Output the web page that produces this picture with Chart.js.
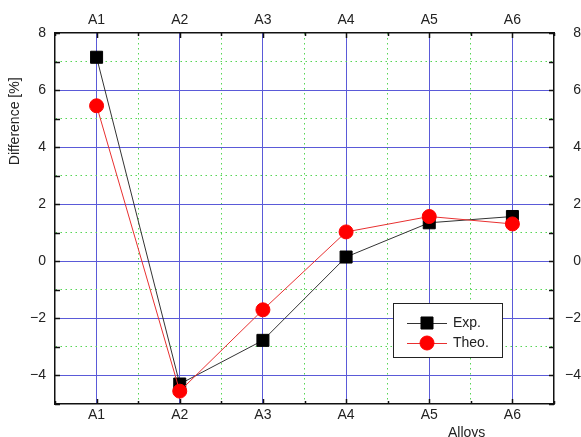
<!DOCTYPE html>
<html>
<head>
<meta charset="utf-8">
<script src="https://cdn.jsdelivr.net/npm/chart.js@4/dist/chart.umd.min.js"></script>
<style>
  body { margin: 0; background: #fff; }
  #wrap { width: 581px; height: 437px; position: relative; }
</style>
</head>
<body>
<div id="wrap"><canvas id="myChart"></canvas></div>
<script>
// values
var categories = ["A1", "A2", "A3", "A4", "A5", "A6"];
var expValues = [7.15, -4.3, -2.77, 0.15, 1.35, 1.57];
var theoValues = [5.45, -4.55, -1.7, 1.03, 1.57, 1.31];
var yTicks = [-4, -2, 0, 2, 4, 6, 8];

var BLUE = "#5a5ad8";
var GREEN = "#55d655";

function toPoints(vals) {
  return vals.map(function (v, i) { return { x: i, y: v }; });
}

function xGridColor(ctx) {
  if (!ctx.tick) return "transparent";
  var v = ctx.tick.value;
  if (v <= -0.5 || v >= categories.length - 0.5) return "transparent";
  return Number.isInteger(v) ? BLUE : GREEN;
}
function yGridColor(ctx) {
  if (!ctx.tick) return "transparent";
  var v = ctx.tick.value;
  if (v <= -5 || v >= 8) return "transparent";
  return v % 2 === 0 ? BLUE : GREEN;
}
function xDash(ctx) {
  if (!ctx.tick) return [];
  return Number.isInteger(ctx.tick.value) ? [] : [1.5, 3.5];
}
function yDash(ctx) {
  if (!ctx.tick) return [];
  return ctx.tick.value % 2 === 0 ? [] : [1.5, 3.5];
}
function catLabel(v) {
  return Number.isInteger(v) ? categories[v] : "";
}
function numLabel(v) {
  if (yTicks.indexOf(v) < 0) return "";
  return v < 0 ? "\u2212" + Math.abs(v) : String(v);
}

// inward tick marks, axis titles and the boxed legend
var extras = {
  id: "extras",
  afterDraw: function (chart) {
    var ctx = chart.ctx;
    var a = chart.chartArea;
    var xs = chart.scales.x, ys = chart.scales.y;
    ctx.save();
    ctx.strokeStyle = "#111";
    ctx.lineWidth = 1.5;
    ctx.beginPath();
    xs.ticks.forEach(function (t) {
      var px = Math.round(xs.getPixelForValue(t.value)) + 0.5;
      var len = Number.isInteger(t.value) ? 5 : 3;
      ctx.moveTo(px, a.bottom); ctx.lineTo(px, a.bottom - len);
      ctx.moveTo(px, a.top); ctx.lineTo(px, a.top + len);
    });
    ys.ticks.forEach(function (t) {
      var py = Math.round(ys.getPixelForValue(t.value)) + 0.5;
      ctx.moveTo(a.left, py); ctx.lineTo(a.left + 5, py);
      ctx.moveTo(a.right, py); ctx.lineTo(a.right - 5, py);
    });
    ctx.stroke();

    ctx.fillStyle = "#222";
    ctx.font = "14px 'Liberation Sans', Arial, sans-serif";
    ctx.textAlign = "center";
    ctx.textBaseline = "middle";
    ctx.fillText("Alloys", a.left + (a.right - a.left) * 0.825, a.bottom + 29);
    ctx.save();
    ctx.translate(15, a.top + (a.bottom - a.top) * 0.238);
    ctx.rotate(-Math.PI / 2);
    ctx.fillText("Difference [%]", 0, 0);
    ctx.restore();

    // legend
    var bx = a.right - 161, by = a.bottom - 101, bw = 109, bh = 54;
    ctx.fillStyle = "#fff";
    ctx.fillRect(bx, by, bw, bh);
    ctx.strokeStyle = "#222";
    ctx.lineWidth = 1;
    ctx.strokeRect(bx + 0.5, by + 0.5, bw, bh);
    chart.data.datasets.slice().sort(function (p, q) { return q.order - p.order; })
      .forEach(function (ds, i) {
        var ly = by + 20 + i * 20;
        ctx.strokeStyle = ds.borderColor;
        ctx.lineWidth = ds.borderWidth;
        ctx.beginPath();
        ctx.moveTo(bx + 14, ly + 0.5); ctx.lineTo(bx + 54, ly + 0.5);
        ctx.stroke();
        ctx.fillStyle = ds.pointBackgroundColor;
        ctx.strokeStyle = ds.pointBorderColor;
        Chart.helpers.drawPoint(ctx, {
          pointStyle: ds.pointStyle, radius: ds.pointRadius, rotation: 0, borderWidth: 1
        }, bx + 34, ly);
        ctx.fillStyle = "#222";
        ctx.textAlign = "left";
        ctx.fillText(ds.label, bx + 60, ly);
      });
    ctx.restore();
  }
};

Chart.defaults.font.family = "'Liberation Sans', Arial, sans-serif";
Chart.defaults.font.size = 14;
Chart.defaults.color = "#222";

var ctx = document.getElementById("myChart").getContext("2d");
var myChart = new Chart(ctx, {
  type: "line",
  data: {
    datasets: [
      {
        label: "Exp.",
        data: toPoints(expValues),
        order: 1,
        borderColor: "#333",
        borderWidth: 1,
        pointStyle: "rect",
        pointRadius: 8.5,
        pointBackgroundColor: "#000",
        pointBorderColor: "#000",
        pointBorderWidth: 1,
      },
      {
        label: "Theo.",
        data: toPoints(theoValues),
        order: 0,
        borderColor: "#e83030",
        borderWidth: 1,
        pointStyle: "circle",
        pointRadius: 7,
        pointBackgroundColor: "#ff0000",
        pointBorderColor: "#ff0000",
        pointBorderWidth: 1,
      },
    ],
  },
  options: {
    responsive: true,
    maintainAspectRatio: false,
    animation: false,
    layout: { padding: 0 },
    plugins: { legend: { display: false }, tooltip: { enabled: false } },
    scales: {
      x: {
        type: "linear", position: "bottom", min: -0.5, max: 5.5,
        afterFit: function (s) { s.height = 33; },
        ticks: { stepSize: 0.5, autoSkip: false, maxRotation: 0, padding: 3, callback: catLabel },
        grid: { drawTicks: false, color: xGridColor, lineWidth: 1 },
        border: { color: "#111", width: 1.5, dash: xDash },
      },
      x2: {
        type: "linear", position: "top", min: -0.5, max: 5.5,
        afterFit: function (s) { s.height = 33; },
        ticks: { stepSize: 0.5, autoSkip: false, maxRotation: 0, padding: 4, callback: catLabel },
        grid: { display: false, drawTicks: false },
        border: { color: "#111", width: 1.5 },
      },
      y: {
        type: "linear", position: "left", min: -5, max: 8,
        afterFit: function (s) { s.width = 55; },
        ticks: { stepSize: 1, autoSkip: false, padding: 9, callback: numLabel },
        grid: { drawTicks: false, color: yGridColor, lineWidth: 1 },
        border: { color: "#111", width: 1.5, dash: yDash },
      },
      y2: {
        type: "linear", position: "right", min: -5, max: 8,
        afterFit: function (s) { s.width = 27; },
        ticks: { stepSize: 1, autoSkip: false, padding: 8, crossAlign: "far", callback: numLabel },
        grid: { display: false, drawTicks: false },
        border: { color: "#111", width: 1.5 },
      },
    },
  },
  plugins: [extras],
});
</script>
</body>
</html>
